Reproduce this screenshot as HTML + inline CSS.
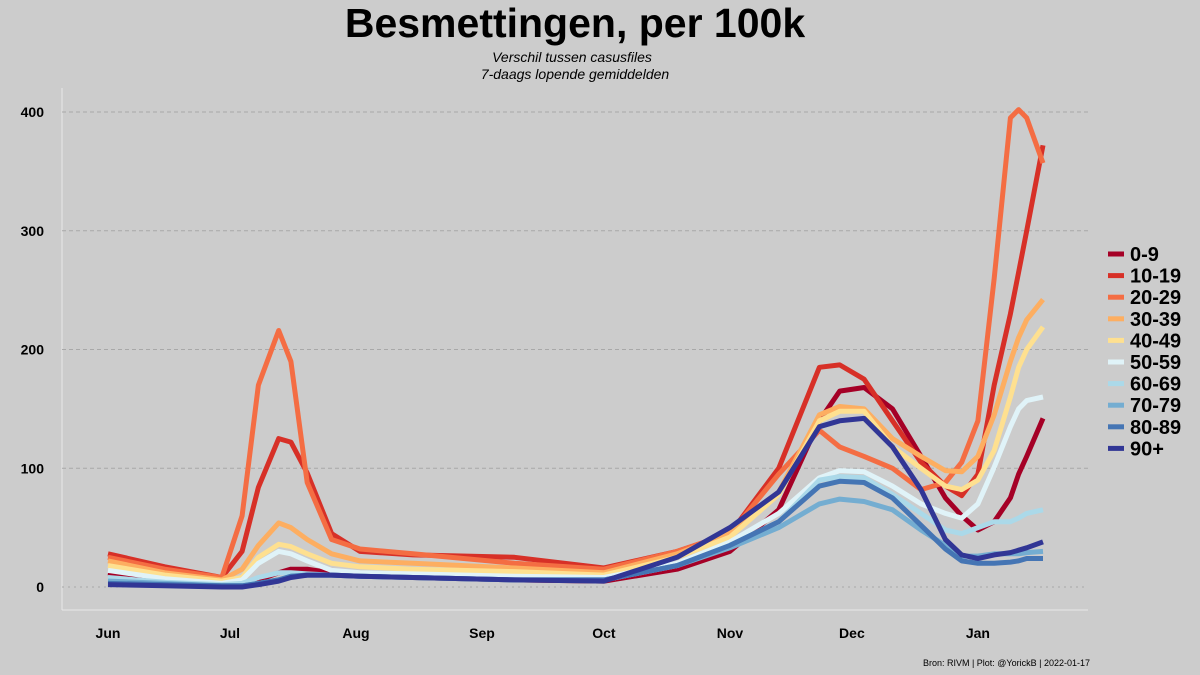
<!DOCTYPE html>
<html><head><meta charset="utf-8"><style>
body{margin:0;background:#cccccc;}
svg{display:block;font-family:"Liberation Sans",sans-serif;}
</style></head><body>
<svg id="chart" width="1200" height="675" viewBox="0 0 1200 675">
<rect width="1200" height="675" fill="#cccccc"/>
<text x="575" y="37" text-anchor="middle" font-size="41" font-weight="bold">Besmettingen, per 100k</text>
<text x="572" y="62" text-anchor="middle" font-size="14" font-style="italic">Verschil tussen casusfiles</text>
<text x="575" y="79" text-anchor="middle" font-size="14" font-style="italic">7-daags lopende gemiddelden</text>
<line x1="62" y1="88" x2="62" y2="610" stroke="#e8e8e8" stroke-width="1"/>
<line x1="62" y1="610" x2="1088" y2="610" stroke="#e8e8e8" stroke-width="1"/>
<g id="grid"></g><g id="lines"></g><g id="legend"></g>
<text x="1090" y="666" text-anchor="end" font-size="9">Bron: RIVM | Plot: @YorickB  |  2022-01-17</text>
</svg>
<script>
const days=[0,14,28,33,37,42,45,49,55,62,75,100,122,140,153,165,175,180,186,193,200,206,210,214,218,222,224,226,230];
const seriesNames=["0-9","10-19","20-29","30-39","40-49","50-59","60-69","70-79","80-89","90+"];
const s0=[12,6,2,3,6,12,15,15,12,10,8,6,5,15,30,65,140,165,168,150,110,75,60,48,55,75,95,110,142];
const s1=[28,17,8,30,84,125,122,96,45,30,27,25,16,30,45,100,185,187,175,140,105,85,77,95,170,230,265,300,372];
const s2=[25,15,8,60,170,216,190,88,40,32,28,20,15,30,45,95,132,118,110,100,82,88,105,140,260,395,402,395,357];
const s3=[22,12,6,15,35,54,50,40,28,22,20,16,12,28,45,80,145,152,150,125,110,98,97,110,145,190,210,225,242];
const s4=[18,10,5,8,25,36,34,28,20,17,15,13,10,25,42,78,140,148,148,118,100,85,82,90,115,160,185,200,219];
const s5=[14,7,3,6,20,30,28,22,14,12,11,9,8,20,38,62,92,98,97,85,70,62,58,70,101,135,150,157,160];
const s6=[8,4,2,3,8,12,12,11,10,9,8,6,6,18,35,55,90,93,92,78,62,48,45,50,55,55,58,62,65];
const s7=[5,3,1,1,3,6,9,10,10,9,8,6,6,18,33,50,70,74,72,65,48,35,26,26,28,28,28,29,30];
const s8=[3,2,1,1,3,6,9,10,10,9,8,6,6,18,35,55,85,89,88,75,52,32,22,20,20,21,22,24,24];
const s9=[2,1,0,0,2,5,8,10,10,9,8,6,5,25,50,80,135,140,142,118,82,40,27,24,27,29,31,33,38];
const seriesValues=[s0,s1,s2,s3,s4,s5,s6,s7,s8,s9];
const yTicks=[0,100,200,300,400];
const xTickLabels=["Jun","Jul","Aug","Sep","Oct","Nov","Dec","Jan"];
const xTickDays=[0,30,61,92,122,153,183,214];
const colors=["#a50026","#d73027","#f46d43","#fdae61","#fee090","#e0f3f8","#abd9e9","#74add1","#4575b4","#313695"];
const NS="http://www.w3.org/2000/svg";
const X=d=>108+d*4.065;
const Y=v=>587-v*1.1875;
const grid=document.getElementById('grid');
yTicks.forEach(t=>{
 const l=document.createElementNS(NS,'line');
 l.setAttribute('x1',62);l.setAttribute('x2',1088);l.setAttribute('y1',Y(t));l.setAttribute('y2',Y(t));
 l.setAttribute('stroke','#a8a8a8');l.setAttribute('stroke-dasharray',t===0?'2,4':'4,3');
 
 
 grid.appendChild(l);
 const tx=document.createElementNS(NS,'text');
 tx.setAttribute('x',44);tx.setAttribute('y',Y(t)+5);tx.setAttribute('text-anchor','end');
 tx.setAttribute('font-size','14');tx.setAttribute('font-weight','bold');tx.textContent=t;
 
 
 grid.appendChild(tx);
});
xTickLabels.forEach((lab,i)=>{
 const tx=document.createElementNS(NS,'text');
 tx.setAttribute('x',X(xTickDays[i]));tx.setAttribute('y',638);tx.setAttribute('text-anchor','middle');
 tx.setAttribute('font-size','14');tx.setAttribute('font-weight','bold');tx.textContent=lab;
 
 
 grid.appendChild(tx);
});
const lines=document.getElementById('lines');
seriesValues.forEach((vals,i)=>{
 const p=document.createElementNS(NS,'polyline');
 p.setAttribute('points',vals.map((v,j)=>X(days[j]).toFixed(1)+','+Y(v).toFixed(1)).join(' '));
 p.setAttribute('fill','none');p.setAttribute('stroke',colors[i]);p.setAttribute('stroke-width','5');
 p.setAttribute('stroke-linejoin','round');
 
 
 lines.appendChild(p);
});
const legend=document.getElementById('legend');
seriesNames.forEach((n,i)=>{
 const y=254+i*21.6;
 const l=document.createElementNS(NS,'line');
 l.setAttribute('x1',1108);l.setAttribute('x2',1124);l.setAttribute('y1',y);l.setAttribute('y2',y);
 l.setAttribute('stroke',colors[i]);l.setAttribute('stroke-width','5');
 
 
 legend.appendChild(l);
 const t=document.createElementNS(NS,'text');
 t.setAttribute('x',1130);t.setAttribute('y',y+7);t.setAttribute('font-size','20');t.setAttribute('font-weight','bold');
 t.textContent=n;
 
 
 legend.appendChild(t);
});
</script>
</body></html>
